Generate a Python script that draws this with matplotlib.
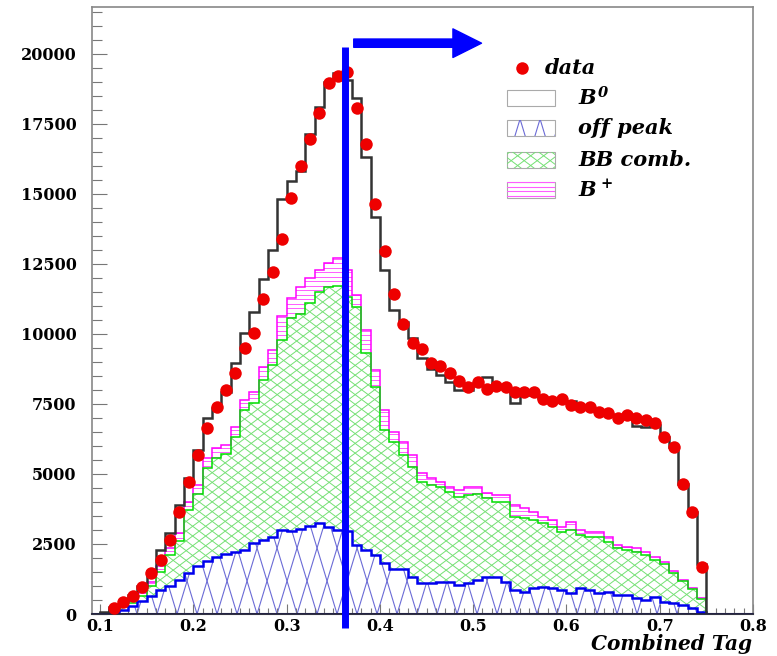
import numpy as np
import matplotlib
matplotlib.use('Agg')
import matplotlib.pyplot as plt
from matplotlib.patches import Polygon, Rectangle
from matplotlib.collections import LineCollection
from matplotlib.ticker import MultipleLocator

plt.rcParams['font.family'] = 'DejaVu Serif'
plt.rcParams['mathtext.fontset'] = 'custom'
plt.rcParams['mathtext.rm'] = 'DejaVu Serif:italic:bold'
plt.rcParams['mathtext.it'] = 'DejaVu Serif:italic:bold'
plt.rcParams['mathtext.bf'] = 'DejaVu Serif:italic:bold'

# Histogram binning: 0.01 wide bins starting at 0.10
BIN_LO = 0.10
BIN_W = 0.01

# Stacked MC levels per bin (off peak, + BB comb, + B+, + B0 = total)
offpeak_top = [0, 60, 150, 300, 450, 650, 850, 1000, 1200, 1450,
               1700, 1900, 2050, 2150, 2200, 2300, 2550, 2650, 2750, 3000,
               2950, 3050, 3150, 3250, 3100, 3000, 2950, 2450, 2300, 2100,
               1810, 1590, 1590, 1330, 1100, 1100, 1150, 1150, 1030, 1100,
               1210, 1330, 1330, 1150, 860, 800, 920, 980, 920, 860,
               740, 920, 860, 740, 800, 680, 680, 560, 500, 620,
               440, 380, 320, 200, 80]
bbcomb_top = [30, 100, 250, 400, 650, 1000, 1500, 2100, 2600, 3700,
              4300, 5200, 5550, 5700, 6300, 7280, 7520, 8350, 8890, 9780,
              10550, 10700, 11090, 11500, 11680, 11700, 11320, 10970, 9310, 8100,
              6570, 6150, 5670, 5260, 4720, 4600, 4520, 4360, 4190, 4250,
              4300, 4130, 4010, 4010, 3470, 3420, 3350, 3240, 3120, 2940,
              3000, 2820, 2760, 2760, 2580, 2340, 2280, 2220, 2110, 1930,
              1800, 1480, 1190, 890, 550]
bplus_top = [40, 130, 300, 470, 750, 1150, 1700, 2350, 2880, 4000,
             4600, 5560, 5910, 6030, 6680, 7640, 7930, 8830, 9420, 10640,
             11270, 11680, 11980, 12280, 12520, 12690, 12280, 11380, 10140, 8710,
             7280, 6510, 6150, 5670, 5020, 4840, 4720, 4540, 4430, 4540,
             4540, 4310, 4250, 4250, 3890, 3770, 3650, 3470, 3350, 3120,
             3290, 3000, 2940, 2940, 2760, 2460, 2400, 2340, 2220, 2040,
             1850, 1520, 1220, 920, 570]
total_mc = [80, 250, 450, 680, 1000, 1550, 2280, 2900, 3900, 4850,
            5850, 6980, 7340, 7930, 8950, 10020, 10790, 11950, 12990, 14800,
            15460, 15820, 17130, 18100, 19000, 19300, 19060, 18400, 16320, 14180,
            12280, 10850, 10430, 9840, 9130, 8730, 8530, 8290, 8000, 8000,
            8250, 8470, 8050, 8100, 7540, 7900, 7800, 7700, 7650, 7600,
            7600, 7400, 7350, 7250, 7150, 7050, 7000, 6700, 6680, 6750,
            6330, 5970, 4640, 3650, 1800]

# Data points, one per bin centre from 0.115 up to 0.745
data_counts = [203, 439, 642, 953, 1452, 1927, 2641, 3651, 4700, 5674,
               6627, 7376, 7994, 8590, 9480, 10020, 11230, 12200, 13370, 14860,
               15990, 16940, 17870, 18940, 19210, 19330, 18070, 16770, 14630, 12970,
               11420, 10350, 9660, 9460, 8970, 8850, 8610, 8320, 8110, 8290,
               8030, 8140, 8110, 7930, 7930, 7930, 7670, 7600, 7670, 7460,
               7380, 7380, 7220, 7160, 6980, 7100, 6980, 6920, 6810, 6330,
               5970, 4640, 3650, 1690]

CUT = 0.363

edges = BIN_LO + BIN_W * np.arange(len(total_mc) + 1)
data_x = edges[1:-1] + BIN_W / 2

fig = plt.figure(figsize=(7.77, 6.56), dpi=100)
ax = fig.add_axes([0.1184, 0.0640, 0.8507, 0.9253])
ax.set_xlim(0.0914, 0.8)
ax.set_ylim(0, 21660)

AX_W = 0.8507 * 777
AX_H = 0.9253 * 656


def band(lower, upper):
    xs = np.repeat(edges, 2)[1:-1]
    top = np.column_stack([xs, np.repeat(upper, 2)])
    bot = np.column_stack([xs[::-1], np.repeat(lower, 2)[::-1]])
    return np.vstack([top, bot])


def hatch(patch, slope, spacing, color, lw, phase=0.0):
    # straight hatch lines given in pixel units, clipped to a patch
    segs = []
    if slope == 0:
        for y in np.arange(phase, AX_H, spacing):
            segs.append([(0, y / AX_H), (1, y / AX_H)])
    else:
        run = AX_H / abs(slope)
        for c in np.arange(-run - spacing + phase, AX_W + run + spacing, spacing):
            segs.append([(c / AX_W, 0), ((c + AX_H / slope) / AX_W, 1)])
    lc = LineCollection(segs, colors=color, linewidths=lw,
                        transform=ax.transAxes, zorder=patch.get_zorder() + 0.1)
    ax.add_collection(lc, autolim=False)
    lc.set_clip_path(patch)


zeros = np.zeros(len(total_mc))
BLUE_H = '#6b6bd6'
GREEN_H = '#74e074'
MAG_H = '#ff5cff'

# off peak (bottom of the stack)
p_off = Polygon(band(zeros, offpeak_top), closed=True, fc='white', ec='none', zorder=1)
ax.add_patch(p_off)
hatch(p_off, 3.3, 20, BLUE_H, 0.8, phase=9)
hatch(p_off, -3.3, 20, BLUE_H, 0.8, phase=9)

# BB combinatorial
p_bb = Polygon(band(offpeak_top, bbcomb_top), closed=True, fc='white', ec='none', zorder=1)
ax.add_patch(p_bb)
hatch(p_bb, 0.75, 13, GREEN_H, 0.7)
hatch(p_bb, -0.75, 13, GREEN_H, 0.7)

# B+
p_bp = Polygon(band(bbcomb_top, bplus_top), closed=True, fc='white', ec='none', zorder=1)
ax.add_patch(p_bp)
hatch(p_bp, 0, 4.5, MAG_H, 0.7)

# outlines
ax.stairs(bplus_top, edges, color='#ff00ff', lw=1.1, zorder=3)
ax.stairs(bbcomb_top, edges, color='#00dd00', lw=1.1, zorder=3)
ax.stairs(offpeak_top, edges, color='#0000ee', lw=1.8, zorder=4)
ax.stairs(total_mc, edges, color='#333333', lw=1.8, zorder=4)
ax.axhline(0, color='#222244', lw=2, zorder=4)

# data
ax.plot(data_x, data_counts, 'o', color='#ee0000', ms=9, mec='none', zorder=5)

# cut line and arrow
ax.plot([CUT, CUT], [-500, 20250], color='#0000ff', lw=5, solid_capstyle='butt',
        clip_on=False, zorder=6)
ax.annotate('', xy=(0.509, 20370), xytext=(0.372, 20370),
            arrowprops=dict(arrowstyle='simple,head_length=1.0,head_width=1.0,tail_width=0.29',
                            mutation_scale=20.6, color='#0000ff', shrinkA=0, shrinkB=0),
            annotation_clip=False, zorder=6)

# legend drawn by hand in axes fraction


def fx(px):
    return (px - 92) / AX_W


def fy(py):
    return (614 - py) / AX_H


leg_font = dict(fontsize=15, fontweight='bold', style='italic', va='center',
                transform=ax.transAxes)
ax.plot([fx(522)], [fy(68)], 'o', color='#ee0000', ms=9, mec='none',
        transform=ax.transAxes, zorder=5)
ax.text(fx(545), fy(68), 'data', **leg_font)

box_w, box_h = 48 / AX_W, 16 / AX_H
rows = [(98, r'$B^0$'), (128, 'off peak'), (160, 'BB comb.'), (190, r'$B^+$')]
for i, (py, label) in enumerate(rows):
    r = Rectangle((fx(507), fy(py) - box_h / 2), box_w, box_h, transform=ax.transAxes,
                  fc='white', ec='#aaaaaa', lw=0.8, zorder=2)
    ax.add_patch(r)
    if i == 1:
        hatch(r, 3.3, 20, BLUE_H, 0.8, phase=2)
        hatch(r, -3.3, 20, BLUE_H, 0.8, phase=2)
    elif i == 2:
        hatch(r, 0.75, 13, GREEN_H, 0.7)
        hatch(r, -0.75, 13, GREEN_H, 0.7)
    elif i == 3:
        hatch(r, 0, 4.5, MAG_H, 0.8)
    ax.text(fx(578), fy(py), label, **leg_font)

# axes styling
for side in ['top', 'right', 'left']:
    ax.spines[side].set_color('#888888')
    ax.spines[side].set_linewidth(1.2)
ax.spines['bottom'].set_color('#333344')
ax.spines['bottom'].set_linewidth(1.5)

ax.xaxis.set_major_locator(MultipleLocator(0.1))
ax.xaxis.set_minor_locator(MultipleLocator(0.01))
ax.yaxis.set_major_locator(MultipleLocator(2500))
ax.yaxis.set_minor_locator(MultipleLocator(500))
ax.tick_params(axis='both', which='both', direction='in', top=False, right=False,
               color='#777777', width=0.8)
ax.tick_params(axis='y', which='major', length=11, pad=11)
ax.tick_params(axis='y', which='minor', length=7)
ax.tick_params(axis='x', which='major', length=7, pad=3)
ax.tick_params(axis='x', which='minor', length=4)
for lab in ax.get_xticklabels() + ax.get_yticklabels():
    lab.set_fontweight('bold')
    lab.set_fontsize(11.5)

fig.text(752 / 777, 1 - 650 / 656, 'Combined Tag', ha='right', va='baseline',
         fontsize=14.5, fontweight='bold', style='italic')

fig.savefig('out.png', dpi=100)
